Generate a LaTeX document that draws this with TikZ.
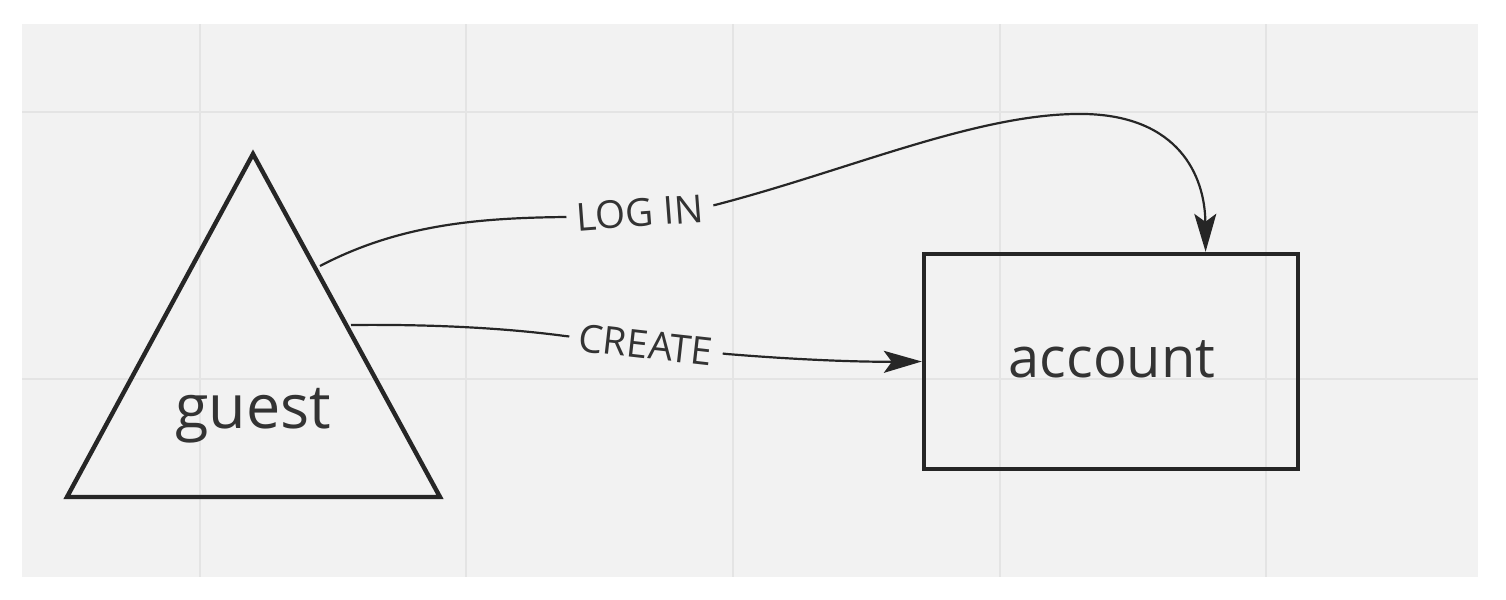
\documentclass[tikz,border=0pt]{standalone}
\usepackage{fontspec}
\setmainfont{Open Sans}
\usetikzlibrary{arrows.meta,calc}
\definecolor{bg}{HTML}{F2F2F2}
\definecolor{gridc}{HTML}{E4E4E4}
\definecolor{ink}{HTML}{262626}
\definecolor{txt}{HTML}{333333}
\tikzset{
  shapeline/.style={draw=ink, line width=2.2pt, line join=miter},
  conn/.style={draw=ink, line width=1.1pt, -{Stealth[length=19pt,width=11pt,inset=4pt]}},
  lbl/.style={fill=bg, text=txt, font=\fontsize{19.3}{21}\selectfont, inner xsep=5pt, inner ysep=1pt, sloped},
  bigtext/.style={text=txt, font=\fontsize{28}{30}\selectfont}
}
\begin{document}
\begin{tikzpicture}[x=0.5pt,y=-0.5pt]
\useasboundingbox (0,0) rectangle (1506,600);
\fill[white] (0,0) rectangle (1506,600);
\fill[bg] (22,24) rectangle (1478,577);
\foreach \gx in {200,466,733,1000,1266} \draw[gridc, line width=0.9pt] (\gx,24) -- (\gx,577);
\foreach \gy in {112,379} \draw[gridc, line width=0.9pt] (22,\gy) -- (1478,\gy);

% guest triangle
\draw[shapeline] (253,154) -- (440,497) -- (67,497) -- cycle;
\node[bigtext, font=\fontsize{30.5}{32}\selectfont, anchor=base] (guest) at (253,428) {guest};
\coordinate (gLogin) at (320,266);
\coordinate (gCreate) at (351,325);

% account rectangle
\node[shapeline, rectangle, minimum width=187pt, minimum height=107.5pt, inner sep=0pt] (acc) at (1111,361.5) {};
\node[bigtext, anchor=base] (acctext) at (1112,377) {account};
\coordinate (aLogin) at ($(acc.north west)!0.75!(acc.north east)$);

% LOG IN
\path[conn] (gLogin) .. controls (400,224) and (480,218) .. (565,217)
  .. controls (615,215) and (665,212) .. node[lbl]{LOG IN} (715,205)
  .. controls (850,170) and (980,112) .. (1085,114)
  .. controls (1178,116) and (1205,175) .. (aLogin);

% CREATE
\path[conn] (gCreate) .. controls (450,324) and (520,330) .. (565,336)
  .. controls (620,342) and (672,348) .. node[lbl]{CREATE} (727,354)
  .. controls (800,360) and (860,362) .. (acc.west);
\end{tikzpicture}
\end{document}
